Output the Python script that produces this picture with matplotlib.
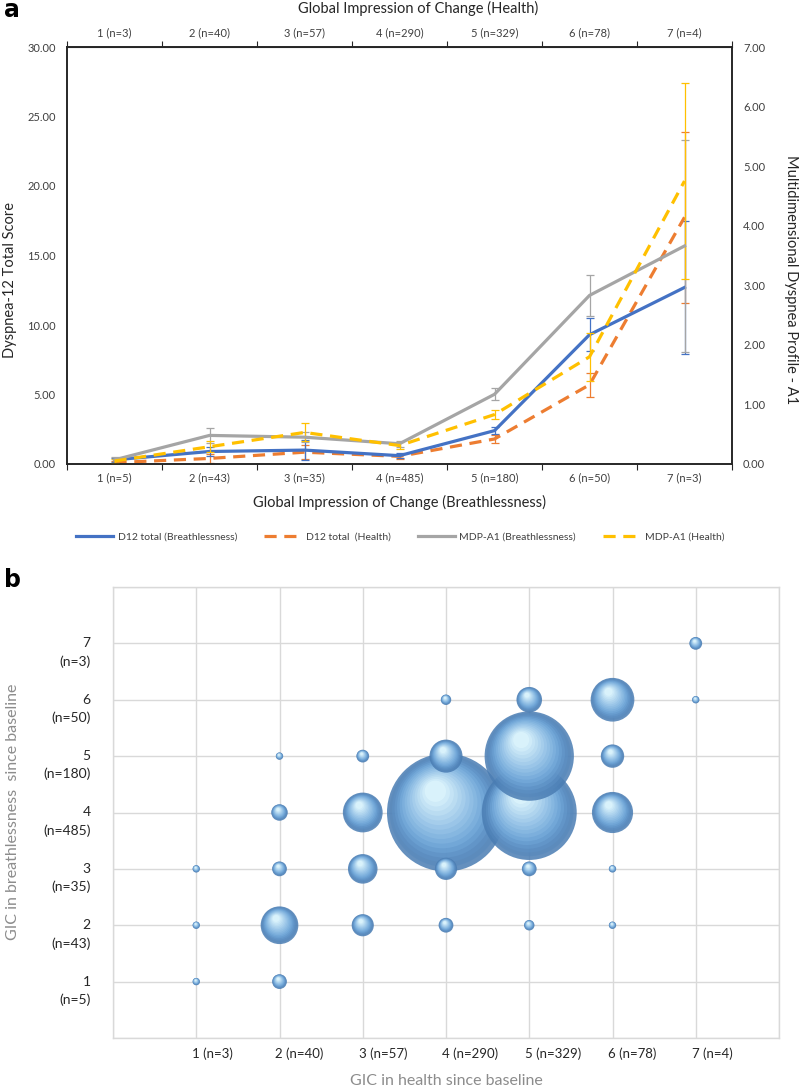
import matplotlib
matplotlib.use("Agg")
import matplotlib.pyplot as plt
import numpy as np
from matplotlib.colors import to_rgb
from matplotlib.lines import Line2D

plt.rcParams['font.family'] = ['Lato', 'DejaVu Sans']

# --- panel a data ---
breath_labels = ["1 (n=5)", "2 (n=43)", "3 (n=35)", "4 (n=485)", "5 (n=180)", "6 (n=50)", "7 (n=3)"]
health_labels = ["1 (n=3)", "2 (n=40)", "3 (n=57)", "4 (n=290)", "5 (n=329)", "6 (n=78)", "7 (n=4)"]

d12_breath = [0.30, 0.90, 1.00, 0.60, 2.40, 9.30, 12.70]
d12_breath_err = [0.15, 0.30, 0.70, 0.20, 0.25, 1.20, 4.80]
d12_health = [0.10, 0.40, 0.85, 0.55, 1.80, 5.70, 17.75]
d12_health_err = [0.10, 0.30, 0.50, 0.20, 0.30, 0.85, 6.15]
mdp_breath = [0.07, 0.48, 0.45, 0.34, 1.17, 2.83, 3.66]
mdp_breath_err = [0.05, 0.12, 0.08, 0.05, 0.10, 0.35, 1.78]
mdp_health = [0.05, 0.29, 0.53, 0.31, 0.83, 1.80, 4.75]
mdp_health_err = [0.03, 0.09, 0.15, 0.06, 0.07, 0.40, 1.65]

# --- panel b data (GIC health x GIC breathlessness, counts) ---
gic_health = [1, 1, 1, 2, 2, 2, 2, 2, 3, 3, 3, 3, 4, 4, 4, 4, 4, 5, 5, 5, 5, 5, 6, 6, 6, 6, 6, 7, 7]
gic_breath = [3, 2, 1, 5, 4, 3, 2, 1, 5, 4, 3, 2, 6, 5, 4, 3, 2, 6, 5, 4, 3, 2, 6, 5, 4, 3, 2, 7, 6]
counts = [1, 1, 1, 1, 5, 4, 26, 4, 3, 29, 16, 9, 2, 20, 255, 9, 4, 12, 146, 165, 4, 2, 35, 10, 31, 1, 1, 3, 1]
breath_ticks = ["1\n(n=5)", "2\n(n=43)", "3\n(n=35)", "4\n(n=485)", "5\n(n=180)", "6\n(n=50)", "7\n(n=3)"]

BLUE = "#4472C4"
ORANGE = "#ED7D31"
GRAY = "#A5A5A5"
YELLOW = "#FFC000"

W, H = 800, 1086
fig = plt.figure(figsize=(W / 100, H / 100), dpi=100)

# ================= panel a =================
ax = fig.add_axes([67 / W, 1 - 464 / H, 665 / W, 417 / H])
ax2 = ax.twinx()
x = np.arange(1, 8)

ax.set_xlim(0.5, 7.5)
ax.set_ylim(0, 30)
ax2.set_ylim(0, 7)
ax.set_yticks(np.arange(0, 31, 5))
ax.set_yticklabels([f"{v:.2f}" for v in np.arange(0, 31, 5)])
ax2.set_yticks(np.arange(0, 8, 1))
ax2.set_yticklabels([f"{v:.2f}" for v in np.arange(0, 8, 1)])
for a in (ax, ax2):
    a.tick_params(axis='y', length=0, pad=8, labelsize=8, labelcolor="#404040")
    for sp in a.spines.values():
        sp.set_color("#262626")
        sp.set_linewidth(1.2)

# bottom categories
ax.set_xticks(np.arange(0.5, 8.0, 1.0))
ax.set_xticklabels([])
ax.set_xticks(x, minor=True)
ax.set_xticklabels(breath_labels, minor=True)
ax.tick_params(axis='x', which='major', direction='out', length=4, color="#262626")
ax.tick_params(axis='x', which='minor', length=0, pad=6, labelsize=8, labelcolor="#404040")
ax.set_xlabel("Global Impression of Change (Breathlessness)", fontsize=10.5, color="#262626", labelpad=8)

# top categories
top = ax.secondary_xaxis('top')
top.set_xticks(np.arange(0.5, 8.0, 1.0))
top.set_xticklabels([])
top.set_xticks(x, minor=True)
top.set_xticklabels(health_labels, minor=True)
top.tick_params(axis='x', which='major', direction='out', length=4, color="#262626")
top.tick_params(axis='x', which='minor', length=0, pad=6, labelsize=8, labelcolor="#404040")
top.spines['top'].set_color("#262626")
fig.text(418 / W, 1 - 8 / H, "Global Impression of Change (Health)", ha='center', va='center',
         fontsize=10.5, color="#262626")

fig.text(10 / W, 1 - 280 / H, "Dyspnea-12 Total Score", rotation=90, ha='center', va='center',
         fontsize=10.5, color="#262626")
fig.text(791 / W, 1 - 280 / H, "Multidimensional Dyspnea Profile - A1", rotation=270, ha='center',
         va='center', fontsize=10.5, color="#262626")

lw = 2.3
ekw = dict(elinewidth=0.9, capsize=3, capthick=0.9)
ax.errorbar(x, d12_health, yerr=d12_health_err, color=ORANGE, lw=lw, ls=(0, (3.8, 2.4)), **ekw)
ax.errorbar(x, d12_breath, yerr=d12_breath_err, color=BLUE, lw=lw, **ekw)
ax2.errorbar(x, mdp_breath, yerr=mdp_breath_err, color=GRAY, lw=lw, **ekw)
ax2.errorbar(x, mdp_health, yerr=mdp_health_err, color=YELLOW, lw=lw, ls=(0, (3.8, 2.4)), **ekw)

handles = [Line2D([], [], color=BLUE, lw=lw),
           Line2D([], [], color=ORANGE, lw=lw, ls=(0, (3.8, 2.4))),
           Line2D([], [], color=GRAY, lw=lw),
           Line2D([], [], color=YELLOW, lw=lw, ls=(0, (3.8, 2.4)))]
names = ["D12 total (Breathlessness)", "D12 total  (Health)", "MDP-A1 (Breathlessness)", "MDP-A1 (Health)"]
fig.legend(handles, names, loc='center', bbox_to_anchor=(400 / W, 1 - 537 / H), ncol=4, frameon=False,
           fontsize=7.5, handlelength=3.6, columnspacing=2.6, handletextpad=0.4, labelcolor="#404040")

fig.text(4 / W, 1 - 10 / H, "a", fontsize=17, fontweight='bold', family='DejaVu Sans', va='center')
fig.text(4 / W, 1 - 580 / H, "b", fontsize=17, fontweight='bold', family='DejaVu Sans', va='center')

# ================= panel b =================
bx = fig.add_axes([113 / W, 1 - 1038 / H, 666 / W, 451 / H])
bx.set_xlim(0, 8)
bx.set_ylim(0, 8)
bx.set_xticks(np.arange(0, 9))
bx.set_yticks(np.arange(0, 9))
bx.grid(True, color="#D9D9D9", lw=1.0)
bx.set_axisbelow(True)
bx.tick_params(length=0, labelbottom=False, labelleft=False)
for sp in bx.spines.values():
    sp.set_color("#D9D9D9")
    sp.set_linewidth(1.0)

for i, lab in enumerate(health_labels):
    bx.text(i + 1 - 0.05, -0.28, lab, ha='left', va='center', fontsize=9.5, color="#262626")
for i, lab in enumerate(breath_ticks):
    num, n = lab.split("\n")
    bx.text(-0.27, i + 1, num, ha='right', va='center', fontsize=10, color="#262626")
    bx.text(-0.27, i + 1 - 0.32, n, ha='right', va='center', fontsize=10, color="#262626")
bx.text(4, -0.76, "GIC in health since baseline", ha='center', va='center', fontsize=11.5, color="#8C8C8C")
fig.text(13 / W, 1 - 812 / H, "GIC in breathlessness  since baseline", rotation=90, ha='center',
         va='center', fontsize=11.5, color="#8C8C8C")

# bubbles: area proportional to count, shaded with layered circles
px_x = 666 / 8
px_y = 451 / 8
cnt = np.array(counts, dtype=float)
dmax = 118.0
order = np.argsort(-cnt)
dark = np.array(to_rgb("#4A7DB3"))
mid = np.array(to_rgb("#76ACDD"))
light = np.array(to_rgb("#E4FAFF"))
nlay = 16
for k in order:
    d = dmax * np.sqrt(cnt[k] / cnt.max())
    r = d / 2
    for j in range(nlay):
        t = j / (nlay - 1)
        f = 1 - 0.82 * t
        if t < 0.3:
            c = dark + (mid - dark) * (t / 0.3)
        else:
            c = mid + (light - mid) * ((t - 0.3) / 0.7)
        dx = -0.18 * r * t / px_x
        dy = 0.36 * r * t / px_y
        bx.scatter(gic_health[k] + dx, gic_breath[k] + dy, s=(d * f * 0.72) ** 2, color=c,
                   edgecolors='none', alpha=0.85 if j == 0 else 0.5, zorder=3, clip_on=False)

fig.savefig("out.png", dpi=100)
